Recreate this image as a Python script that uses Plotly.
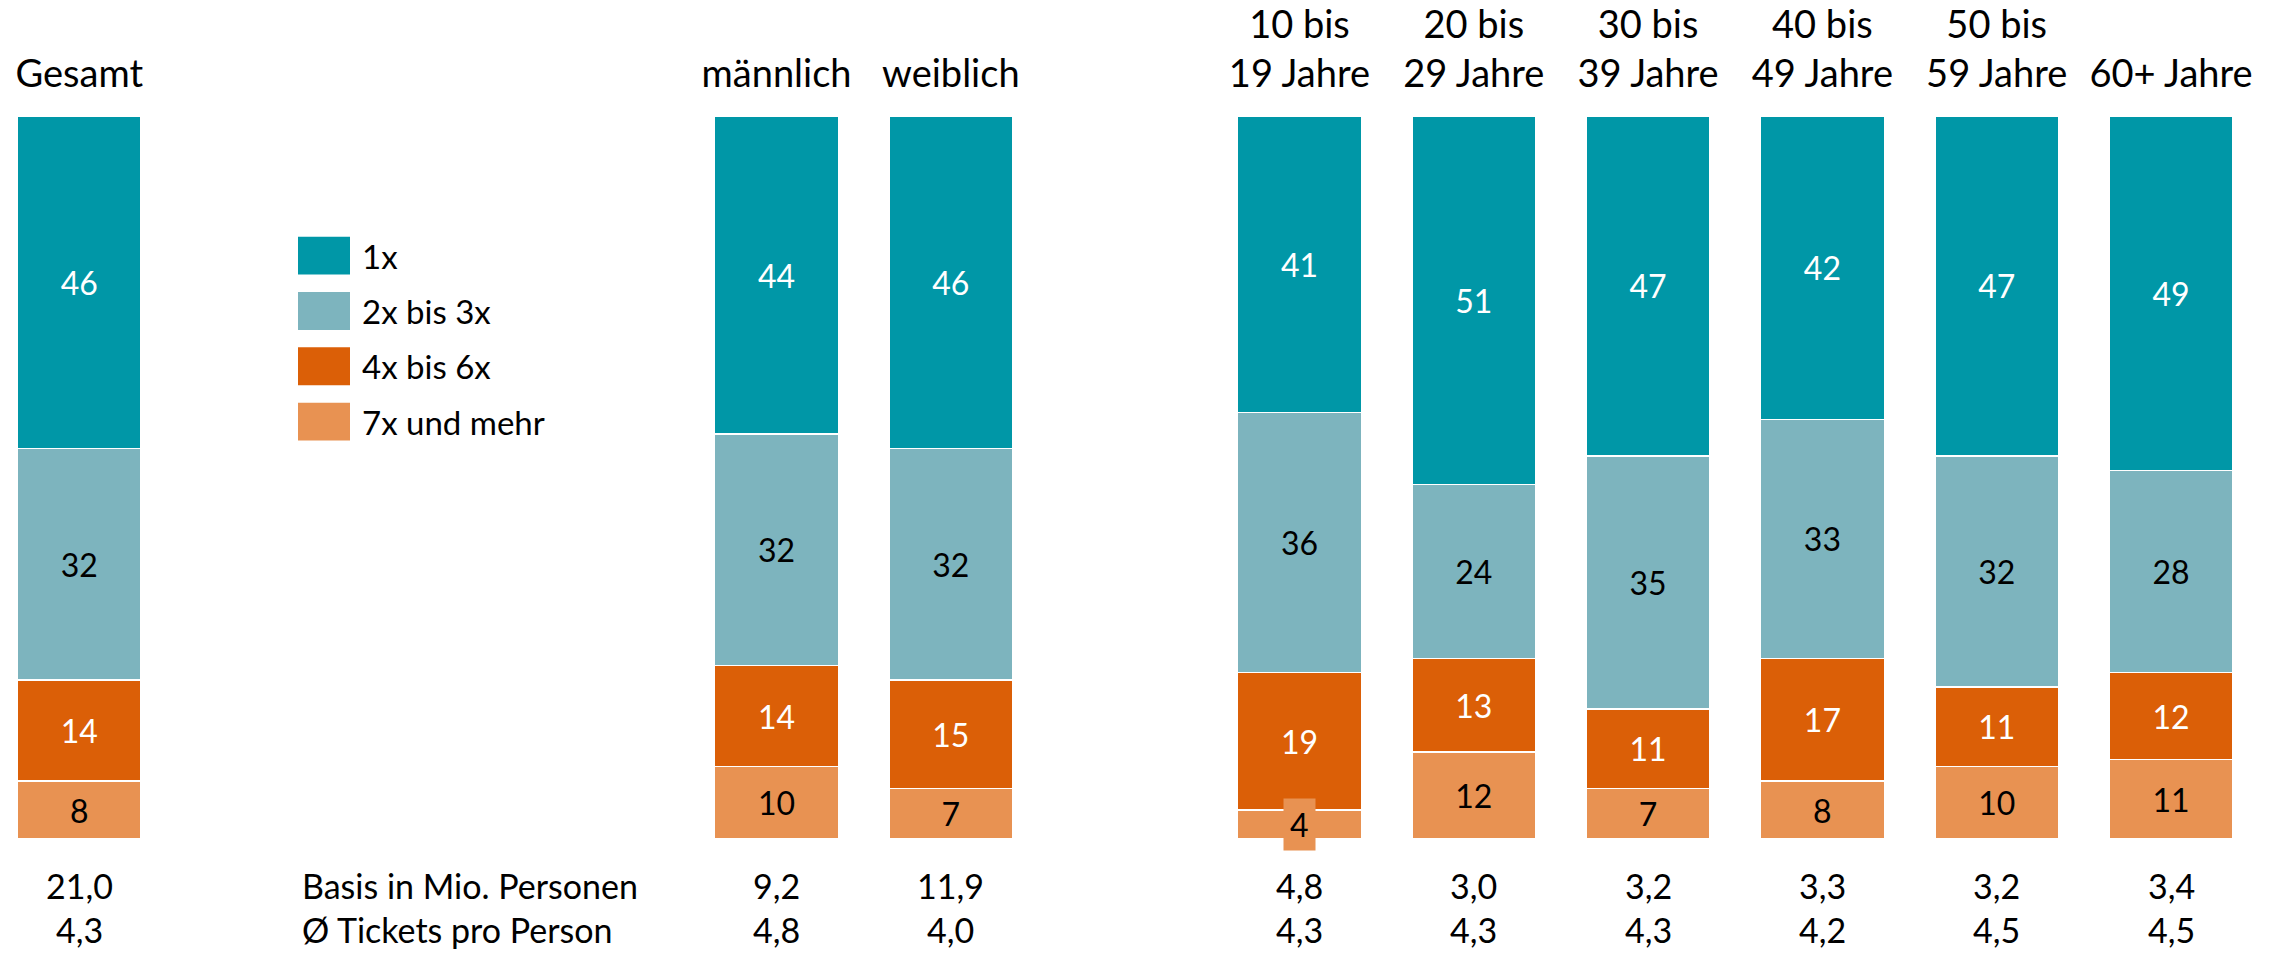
import plotly.graph_objects as go

# ---------------- data ----------------
categories = ["Gesamt", "männlich", "weiblich",
              "10 bis<br>19 Jahre", "20 bis<br>29 Jahre", "30 bis<br>39 Jahre",
              "40 bis<br>49 Jahre", "50 bis<br>59 Jahre", "60+ Jahre"]
group_sizes = [1, 2, 6]          # Gesamt | Geschlecht | Alter
series_names = ["1x", "2x bis 3x", "4x bis 6x", "7x und mehr"]
v_1x      = [46, 44, 46, 41, 51, 47, 42, 47, 49]
v_2bis3   = [32, 32, 32, 36, 24, 35, 33, 32, 28]
v_4bis6   = [14, 14, 15, 19, 13, 11, 17, 11, 12]
v_7plus   = [8, 10, 7, 4, 12, 7, 8, 10, 11]
basis     = ["21,0", "9,2", "11,9", "4,8", "3,0", "3,2", "3,3", "3,2", "3,4"]
tickets   = ["4,3", "4,8", "4,0", "4,3", "4,3", "4,3", "4,2", "4,5", "4,5"]
row_labels = ["Basis in Mio. Personen", "Ø Tickets pro Person"]

# ---------------- style ----------------
colors = {"1x": "#0097A7", "2x bis 3x": "#7DB4BE", "4x bis 6x": "#DB5F07", "7x und mehr": "#E89252"}
text_colors = {"1x": "white", "2x bis 3x": "black", "4x bis 6x": "white", "7x und mehr": "black"}
FONT = "Lato, sans-serif"
FS_BAR = 32
FS_HEAD = 38
FS_LEG = 33
FS_ROW = 34
W, H = 2285, 953
TOP, BOT = 114, 114
plot_h = H - TOP - BOT

def py(px):  # pixel row -> paper y
    return (H - BOT - px) / plot_h

# slot positions: groups separated by empty slots
gaps_before = [0, 3, 1]
xpos = []
s = 0
for g, n in enumerate(group_sizes):
    s += gaps_before[g]
    for k in range(n):
        xpos.append(s)
        s += 1

series = {"1x": v_1x, "2x bis 3x": v_2bis3, "4x bis 6x": v_4bis6, "7x und mehr": v_7plus}
order = ["7x und mehr", "4x bis 6x", "2x bis 3x", "1x"]

fig = go.Figure()
annotations = []
for name in order:
    vals = series[name]
    txt = [str(v) if v >= 6 else "" for v in vals]
    fig.add_trace(go.Bar(
        x=xpos, y=vals, name=name, width=0.71,
        marker=dict(color=colors[name], line=dict(color="white", width=1.5)),
        text=txt, textposition="inside", insidetextanchor="middle",
        constraintext="none", textangle=0,
        textfont=dict(family=FONT, size=FS_BAR, color=text_colors[name]),
        hoverinfo="skip", showlegend=False,
    ))

# small segment labels (value too small for inside text) -> boxed annotation
for i, x in enumerate(xpos):
    base = 0
    for name in order:
        v = series[name][i]
        if v < 6:
            annotations.append(dict(
                x=x, y=base + v / 2, xref="x", yref="y", text=str(v), showarrow=False,
                font=dict(family=FONT, size=FS_BAR, color=text_colors[name]),
                bgcolor=colors[name], borderpad=6))
        base += v

# bottom rows
row_values = [basis, tickets]
row_centers = [886, 930]
for r, vals in enumerate(row_values):
    for i, x in enumerate(xpos):
        annotations.append(dict(x=x, y=py(row_centers[r]), xref="x", yref="paper",
                                text=vals[i], showarrow=False, yanchor="middle",
                                font=dict(family=FONT, size=FS_ROW, color="black")))
    annotations.append(dict(x=300 / W, y=py(row_centers[r]), xref="paper", yref="paper",
                            text=row_labels[r], showarrow=False, xanchor="left", yanchor="middle",
                            font=dict(family=FONT, size=FS_ROW, color="black")))

# custom legend
shapes = []
for j, name in enumerate(series_names):
    c = 254 + j * 55.5
    shapes.append(dict(type="rect", xref="paper", yref="paper",
                       x0=298 / W, x1=350 / W, y0=py(c + 19), y1=py(c - 19),
                       fillcolor=colors[name], line=dict(width=0)))
    annotations.append(dict(x=360 / W, y=py(c), xref="paper", yref="paper", text=name,
                            showarrow=False, xanchor="left", yanchor="middle",
                            font=dict(family=FONT, size=FS_LEG, color="black")))

fig.update_layout(
    width=W, height=H, barmode="stack",
    margin=dict(l=0, r=0, t=TOP, b=BOT, pad=0),
    paper_bgcolor="white", plot_bgcolor="white",
    font=dict(family=FONT, size=FS_BAR, color="black"),
    xaxis=dict(range=[-0.455, 12.654], side="top", tickmode="array",
               tickvals=xpos, ticktext=categories, showgrid=False, zeroline=False,
               showline=False, ticks="", ticklabelstandoff=20,
               tickfont=dict(family=FONT, size=FS_HEAD, color="black")),
    yaxis=dict(range=[0, 100], visible=False, showgrid=False, zeroline=False),
    annotations=annotations, shapes=shapes,
)

fig.write_html("out.html", config={"displayModeBar": False},
               post_script="document.body.style.margin='0';document.body.style.overflow='hidden';")
